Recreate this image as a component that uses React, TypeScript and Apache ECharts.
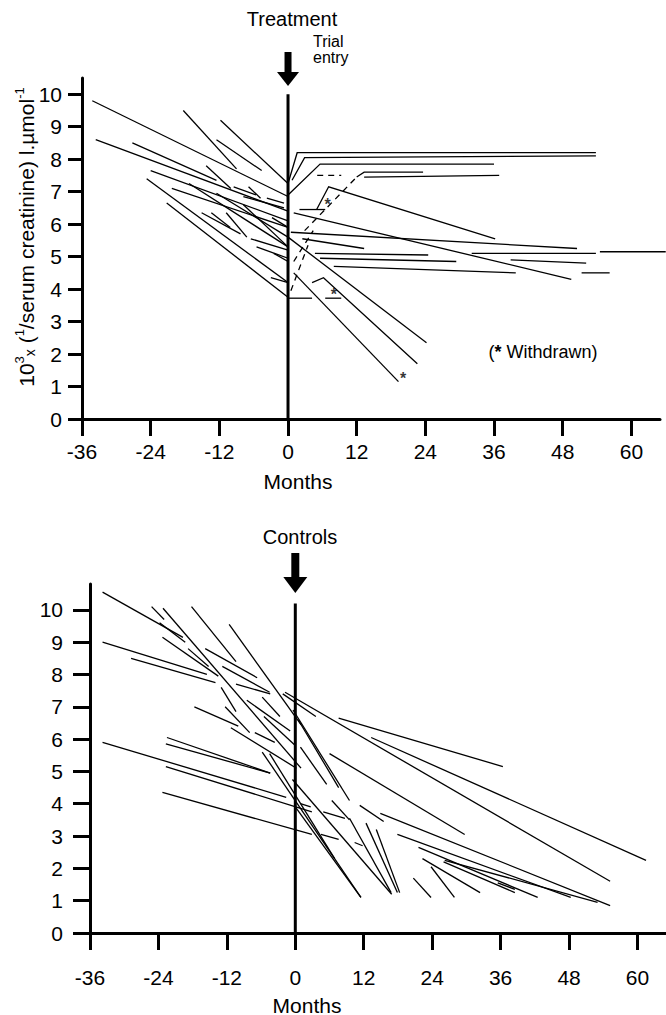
import React, { useEffect, useRef } from "react";
import * as echarts from "echarts";

const FONT = "Liberation Sans";

const X_TICKS = [-36, -24, -12, 0, 12, 24, 36, 48, 60];
const Y_TICKS = [0, 1, 2, 3, 4, 5, 6, 7, 8, 9, 10];

// Treatment group: pre-entry slopes [month1, value1, month2, value2]
const treatedBefore = [
  [-34.2, 9.8, 0, 6.85],
  [-33.6, 8.6, 0, 6.4],
  [-27.2, 8.5, -12.5, 7.35],
  [-18.3, 9.5, -9, 7.7],
  [-11.8, 9.2, 0, 7.25],
  [-12.5, 8.6, -4.6, 7.65],
  [-14.3, 7.8, -10, 7.1],
  [-24, 7.65, 0, 6.1],
  [-24.7, 7.4, 0, 4.2],
  [-21.2, 6.65, 0, 3.75],
  [-20.3, 7.1, 0, 5.9],
  [-17.3, 7.25, 0, 5.3],
  [-12.5, 6.95, 0, 5.6],
  [-9.5, 7.15, -5.6, 6.9],
  [-6.9, 7.15, -4.8, 6.8],
  [-7.8, 6.85, -0.7, 6.5],
  [-3.7, 6.8, -0.7, 6.65],
  [-15.1, 6.35, -8.3, 5.7],
  [-13.4, 6.35, -10.1, 5.9],
  [-10.8, 6.35, -7.2, 5.6],
  [-7.8, 6.6, 0, 5.3],
  [-6.5, 5.55, 0, 5.2],
  [-5.5, 5.3, 0, 4.95],
  [-2.5, 5.1, 0, 4.85],
  [-2.8, 6.2, 0, 5.9],
  [-3, 4.35, 0, 4.2],
];

// Treatment group: post-entry courses (solid)
const treatedAfter = [
  [[0, 7.25], [1.6, 8.2], [53.8, 8.2]],
  [[0.7, 7.35], [2.9, 8.05], [53.8, 8.1]],
  [[0, 6.9], [5.6, 7.85], [36, 7.85]],
  [[12, 7.45], [13.3, 7.6], [23.6, 7.6]],
  [[13.3, 7.45], [36.9, 7.5]],
  [[2, 6.45], [6.5, 6.45]],
  [[5, 6.45], [7.1, 7.15], [36.2, 5.55]],
  [[1, 6.35], [49.5, 4.3]],
  [[0.5, 5.75], [50.5, 5.25]],
  [[2.5, 5.55], [13.3, 5.25]],
  [[4.7, 5.1], [24.5, 5.05]],
  [[5.6, 4.95], [29.4, 4.85]],
  [[32.1, 5.1], [53.8, 5.1]],
  [[54.5, 5.15], [66, 5.15]],
  [[38.9, 4.9], [52.1, 4.8]],
  [[8, 4.7], [39.8, 4.5]],
  [[51.3, 4.5], [56.2, 4.5]],
  [[0, 5.6], [24.2, 2.35]],
  [[4.2, 4.2], [6.2, 4.35], [22.6, 1.7]],
  [[1, 4.5], [19.3, 1.15]],
  [[0, 3.72], [4.2, 3.72]],
  [[6.5, 3.72], [9.3, 3.72]],
];

// Treatment group: post-entry courses (dashed)
const treatedDashed = [
  [[5.1, 7.5], [9.3, 7.5]],
  [[2.9, 5.8], [12, 7.45]],
  [[0.5, 3.95], [3.5, 5.35]],
  [[1, 4.85], [4.4, 5.8]],
];

// Withdrawn markers
const withdrawn = [
  [6.9, 6.62],
  [8, 3.82],
  [20.1, 1.26],
];

// Controls: slopes [month1, value1, month2, value2]
const controls = [
  [-33.8, 10.55, -19.7, 9.15],
  [-25.2, 10.1, -23, 9.7],
  [-23.8, 9.6, -19.3, 9.0],
  [-23.2, 10.05, 1, 5.1],
  [-23.3, 9.15, -13.5, 7.95],
  [-18.8, 8.8, -15.2, 8.25],
  [-18.2, 10.1, -10.4, 8.4],
  [-11.6, 9.55, 1, 6.45],
  [-33.8, 9.0, -15.5, 8.0],
  [-28.8, 8.5, -14, 7.75],
  [-15.8, 8.8, -6.7, 7.9],
  [-12.8, 8.25, -4.5, 7.45],
  [-10.4, 7.7, -4.4, 7.4],
  [-13, 7.6, -10.4, 6.85],
  [-17.7, 7.0, -10, 6.4],
  [-12.3, 7.0, -8, 6.2],
  [-8.5, 7.2, -0.9, 6.25],
  [-5.8, 7.3, -2.7, 6.7],
  [-11.3, 6.35, 0.2, 5.1],
  [-7.1, 6.2, -3.6, 5.9],
  [-5.5, 6.7, 0, 5.8],
  [-33.8, 5.9, -1.6, 4.2],
  [-22.5, 6.05, -4.4, 4.95],
  [-22.7, 5.85, -4.4, 4.95],
  [-22.7, 5.15, 2.9, 3.75],
  [-23.3, 4.35, 2.9, 3.05],
  [-5.8, 5.6, 11.5, 1.1],
  [-4.5, 5.55, 6.9, 2.3],
  [-2.2, 7.4, 3.6, 6.7],
  [-0.4, 6.9, 9.5, 4.1],
  [0.5, 6.6, 7.6, 4.5],
  [0.9, 5.75, 5.5, 4.6],
  [-1.8, 7.45, 55.2, 1.6],
  [13.3, 6.05, 61.5, 2.25],
  [7.6, 6.65, 36.4, 5.15],
  [6, 5.55, 29.7, 3.05],
  [14.9, 3.7, 55.2, 0.85],
  [17.9, 3.05, 48.3, 1.1],
  [21.6, 2.65, 42.5, 1.1],
  [26.2, 2.25, 53, 0.95],
  [26, 2.2, 38.5, 1.25],
  [35.5, 1.55, 38.5, 1.35],
  [22.3, 2.3, 32.4, 1.25],
  [23.8, 2.05, 27.9, 1.1],
  [20.7, 1.7, 23.8, 1.1],
  [11.3, 3.95, 15.5, 3.45],
  [12.4, 3.4, 17.9, 1.25],
  [9.5, 3.55, 16.8, 1.25],
  [14.2, 3.2, 18.3, 1.25],
  [0, 3.9, 11.5, 1.1],
  [-0.5, 4.75, 16.9, 1.2],
  [6.4, 4.1, 9.5, 3.5],
  [4.9, 3.75, 8.7, 3.55],
  [4.5, 3.05, 7.6, 2.9],
  [10.4, 2.8, 11.8, 2.7],
  [0.9, 4.0, 2.7, 3.9],
];

const entryLineTop = [[0, 0], [0, 10]];
const entryLineBottom = [[0, 0], [0, 10.2]];

const LINE = { color: "#000", width: 1.3, opacity: 1 };

function xAxis(gridIndex: number, max: number, margin: number) {
  return {
    type: "value",
    gridIndex,
    min: -36,
    max,
    axisLine: { show: true, onZero: false, lineStyle: { color: "#000", width: 3 } },
    axisTick: { show: true, length: 17, customValues: X_TICKS, lineStyle: { color: "#000", width: 3 } },
    axisLabel: { customValues: X_TICKS, fontSize: 21, color: "#000", fontFamily: FONT, margin },
    splitLine: { show: false },
  };
}

function yAxis(gridIndex: number, max: number, tickLen: number, margin: number) {
  return {
    type: "value",
    gridIndex,
    min: 0,
    max,
    axisLine: { show: true, onZero: false, lineStyle: { color: "#000", width: 3 } },
    axisTick: { show: true, length: tickLen, customValues: Y_TICKS, lineStyle: { color: "#000", width: 3 } },
    axisLabel: { customValues: Y_TICKS, fontSize: 21, color: "#000", fontFamily: FONT, margin },
    splitLine: { show: false },
  };
}

export default function App() {
  const ref = useRef<HTMLDivElement>(null);

  useEffect(() => {
    document.body.style.margin = "0";
    if (!ref.current) return;
    const chart = echarts.init(ref.current, undefined, { renderer: "svg" });

    const topX0 = 82 + 36 * (578 / 101);
    const botX0 = 90 + 36 * (576 / 101);

    chart.setOption({
      animation: false,
      backgroundColor: "#fff",
      grid: [
        { left: 82, right: 6, top: 78, height: 341 },
        { left: 90, right: 0, top: 584, height: 349 },
      ],
      xAxis: [xAxis(0, 65, 22), xAxis(1, 65, 34)],
      yAxis: [yAxis(0, 10.5, 14, 20), yAxis(1, 10.8, 17, 27)],
      series: [
        {
          type: "lines",
          coordinateSystem: "cartesian2d",
          xAxisIndex: 0,
          yAxisIndex: 0,
          clip: false,
          data: treatedBefore.map((s) => ({ coords: [[s[0], s[1]], [s[2], s[3]]] })),
          lineStyle: LINE,
        },
        {
          type: "lines",
          coordinateSystem: "cartesian2d",
          xAxisIndex: 0,
          yAxisIndex: 0,
          polyline: true,
          clip: false,
          data: treatedAfter.map((c) => ({ coords: c })),
          lineStyle: LINE,
        },
        {
          type: "lines",
          coordinateSystem: "cartesian2d",
          xAxisIndex: 0,
          yAxisIndex: 0,
          polyline: true,
          data: treatedDashed.map((c) => ({ coords: c })),
          lineStyle: { ...LINE, type: [6, 5] },
        },
        {
          type: "line",
          xAxisIndex: 0,
          yAxisIndex: 0,
          data: entryLineTop,
          symbol: "none",
          lineStyle: { color: "#000", width: 3 },
        },
        {
          type: "scatter",
          xAxisIndex: 0,
          yAxisIndex: 0,
          data: withdrawn,
          symbolSize: 1,
          itemStyle: { color: "transparent" },
          label: {
            show: true,
            formatter: "*",
            position: "inside",
            fontSize: 16,
            fontWeight: "bold",
            color: "#000",
            fontFamily: FONT,
          },
        },
        {
          type: "lines",
          coordinateSystem: "cartesian2d",
          xAxisIndex: 1,
          yAxisIndex: 1,
          data: controls.map((s) => ({ coords: [[s[0], s[1]], [s[2], s[3]]] })),
          lineStyle: LINE,
        },
        {
          type: "line",
          xAxisIndex: 1,
          yAxisIndex: 1,
          data: entryLineBottom,
          symbol: "none",
          lineStyle: { color: "#000", width: 3 },
        },
      ],
      graphic: [
        {
          type: "text",
          x: 292,
          y: 19,
          style: { text: "Treatment", fontSize: 20, fontFamily: FONT, fill: "#000", align: "center", verticalAlign: "middle" },
        },
        {
          type: "text",
          x: 313,
          y: 41,
          style: { text: "Trial", fontSize: 16, fontFamily: FONT, fill: "#000", align: "left", verticalAlign: "middle" },
        },
        {
          type: "text",
          x: 313,
          y: 57,
          style: { text: "entry", fontSize: 16, fontFamily: FONT, fill: "#000", align: "left", verticalAlign: "middle" },
        },
        { type: "rect", shape: { x: topX0 - 3.5, y: 52, width: 7, height: 21 }, style: { fill: "#000" } },
        {
          type: "polygon",
          shape: { points: [[topX0 - 11, 72], [topX0 + 11, 72], [topX0, 86]] },
          style: { fill: "#000" },
        },
        {
          type: "text",
          x: 25,
          y: 237,
          rotation: Math.PI / 2,
          style: {
            text: "{n|10}{s|3}{x|x}{n| (}{s|1}{n|/serum creatinine) l.µmol}{s|-1}",
            align: "center",
            verticalAlign: "middle",
            fill: "#000",
            rich: {
              n: { fontSize: 21, fontFamily: FONT, fill: "#000", lineHeight: 24, verticalAlign: "bottom" },
              s: { fontSize: 13, fontFamily: FONT, fill: "#000", lineHeight: 24, verticalAlign: "top" },
              x: { fontSize: 14, fontFamily: FONT, fill: "#000", lineHeight: 24, verticalAlign: "bottom" },
            },
          },
        },
        {
          type: "text",
          x: 298,
          y: 481,
          style: { text: "Months", fontSize: 21, fontFamily: FONT, fill: "#000", align: "center", verticalAlign: "middle" },
        },
        {
          type: "text",
          x: 543,
          y: 352,
          style: {
            text: "({b|*} Withdrawn)",
            fontSize: 18,
            fontFamily: FONT,
            fill: "#000",
            align: "center",
            verticalAlign: "middle",
            rich: { b: { fontSize: 18, fontWeight: "bold", fontFamily: FONT, fill: "#000" } },
          },
        },
        {
          type: "text",
          x: 300,
          y: 537,
          style: { text: "Controls", fontSize: 20, fontFamily: FONT, fill: "#000", align: "center", verticalAlign: "middle" },
        },
        { type: "rect", shape: { x: botX0 - 4, y: 553, width: 8, height: 25 }, style: { fill: "#000" } },
        {
          type: "polygon",
          shape: { points: [[botX0 - 12, 577], [botX0 + 12, 577], [botX0, 593]] },
          style: { fill: "#000" },
        },
        {
          type: "text",
          x: 307,
          y: 1005,
          style: { text: "Months", fontSize: 21, fontFamily: FONT, fill: "#000", align: "center", verticalAlign: "middle" },
        },
      ],
    });

    return () => chart.dispose();
  }, []);

  return <div ref={ref} style={{ width: 666, height: 1015 }} />;
}
